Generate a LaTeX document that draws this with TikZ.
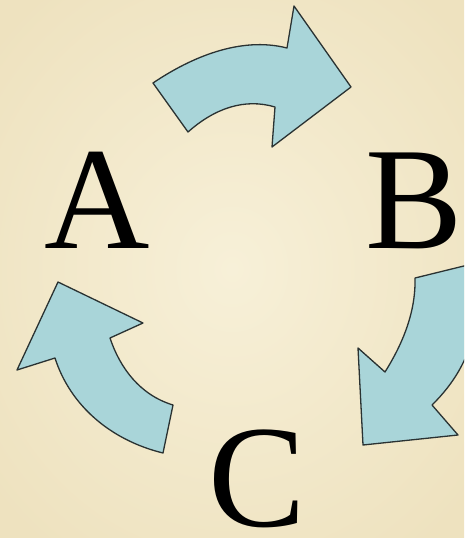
\documentclass[tikz,border=0pt]{standalone}
\usepackage{fontspec}
\setmainfont{Liberation Serif}
\definecolor{paper}{HTML}{F7F0D8}
\definecolor{paperedge}{HTML}{EEE2BF}
\definecolor{arrowfill}{HTML}{A9D5D9}
\definecolor{arrowline}{HTML}{2A3232}
\begin{document}
\begin{tikzpicture}[x=1pt, y=-1pt,
  letter/.style={font=\fontsize{146}{150}\selectfont, inner sep=0pt, anchor=base},
  blockarrow/.style={fill=arrowfill, draw=arrowline, line width=1.3pt, line join=round}]
\useasboundingbox (0,0) rectangle (464,538);
\clip (0,0) rectangle (464,538);
\shade[inner color=paper, outer color=paperedge] (-80,-80) rectangle (544,618);
\node[letter] (A) at (97,248) {A};
\node[letter] (B) at (414,248) {B};
\node[letter] (C) at (257,526) {C};
% A to B
\draw[blockarrow] (188,132) -- (153,83) .. controls (190,58) and (240,36) .. (287,48)
  -- (294,6) -- (351,87) -- (272,147) -- (275,107)
  .. controls (245,98) and (215,108) .. (188,132) -- cycle;
% B to C
\draw[blockarrow] (415,278) -- (472,264) .. controls (482,310) and (478,360) .. (432,405)
  -- (458,435) -- (363,445) -- (358,348) -- (385,372)
  .. controls (400,348) and (416,315) .. (415,278) -- cycle;
% C to A
\draw[blockarrow] (173,405) -- (163,453) .. controls (110,440) and (70,405) .. (55,358)
  -- (17,370) -- (58,282) -- (143,323) -- (110,338)
  .. controls (120,368) and (140,395) .. (173,405) -- cycle;
\end{tikzpicture}
\end{document}
